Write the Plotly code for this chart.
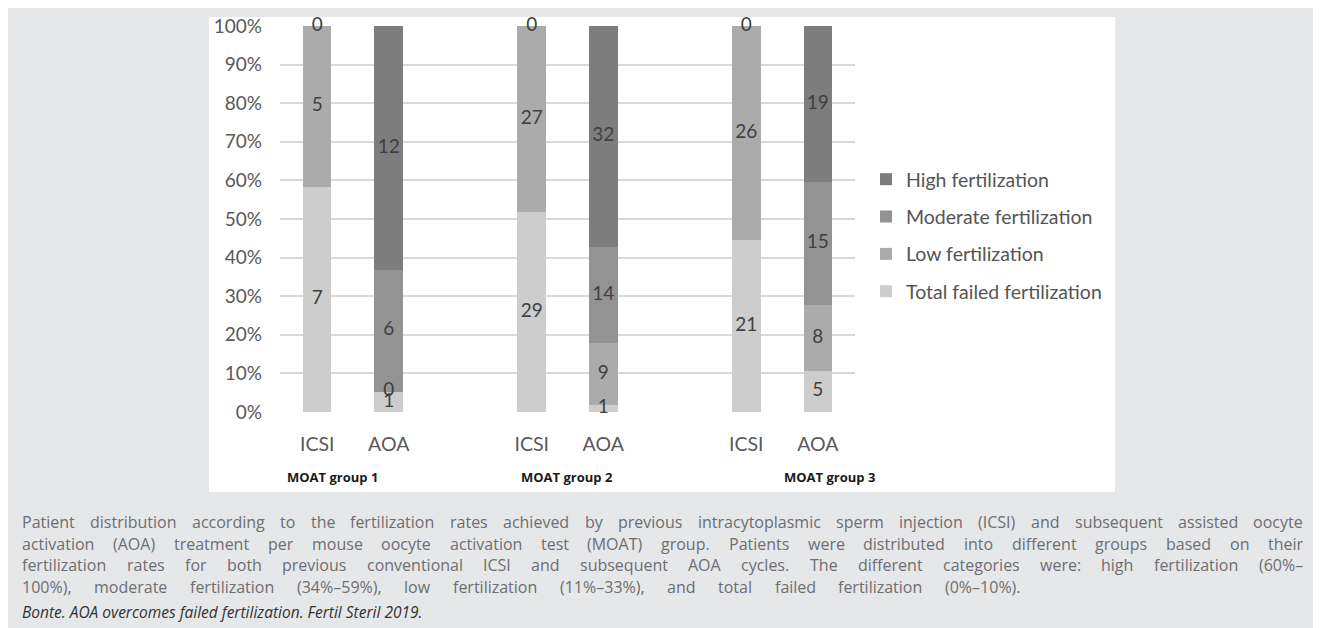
import plotly.graph_objects as go

W, H = 1321, 628
OFF = 8  # the page body adds an 8px margin; reference pixels are shifted by it

# ---------------- data ----------------
groups = ["MOAT group 1", "MOAT group 2", "MOAT group 3"]
arms = ["ICSI", "AOA"]
series_names = ["Total failed fertilization", "Low fertilization",
                "Moderate fertilization", "High fertilization"]
# one value per bar: G1 ICSI, G1 AOA, G2 ICSI, G2 AOA, G3 ICSI, G3 AOA
total_failed = [7, 1, 29, 1, 21, 5]
low_fert = [5, 0, 27, 9, 26, 8]
moderate_fert = [0, 6, 0, 14, 0, 15]
high_fert = [None, 12, None, 32, None, 19]
series_values = [total_failed, low_fert, moderate_fert, high_fert]
series_colors = ["#cdcdcd", "#ababab", "#939393", "#7d7d7d"]

y_tick_vals = [0, 0.1, 0.2, 0.3, 0.4, 0.5, 0.6, 0.7, 0.8, 0.9, 1.0]
y_tick_text = ["0%", "10%", "20%", "30%", "40%", "50%", "60%", "70%", "80%", "90%", "100%"]

caption_lines = [
    "Patient distribution according to the fertilization rates achieved by previous intracytoplasmic sperm injection (ICSI) and subsequent assisted oocyte",
    "activation (AOA) treatment per mouse oocyte activation test (MOAT) group. Patients were distributed into different groups based on their",
    "fertilization rates for both previous conventional ICSI and subsequent AOA cycles. The different categories were: high fertilization (60%\u2013",
    "100%), moderate fertilization (34%\u201359%), low fertilization (11%\u201333%), and total failed fertilization (0%\u201310%).",
]
citation = "Bonte. AOA overcomes failed fertilization. Fertil Steril 2019."

# ---------------- helpers ----------------
def fx(px):
    return (px - OFF) / W


def fy(py):
    return 1 - (py - OFF) / H


# Excel-style category slots: two bars per group, one empty slot between groups
bar_x = [g * 3 + a for g in range(len(groups)) for a in range(len(arms))]
bar_ticktext = [a for g in groups for a in arms]
n_bars = len(bar_x)
totals = [sum(s[i] for s in series_values if s[i] is not None) for i in range(n_bars)]

CHART_FONT = "Lato, Carlito, 'Open Sans', sans-serif"
CAP_FONT = "'Open Sans', 'Noto Sans', sans-serif"

fig = go.Figure()

n_series = len(series_names)
for k, (name, vals, col) in enumerate(zip(series_names, series_values, series_colors)):
    fig.add_trace(go.Bar(
        x=bar_x, y=[v if v is not None else 0 for v in vals],
        name=name, marker=dict(color=col, line=dict(width=0)),
        width=0.4, legendgroup=name, legendrank=n_series - k, hoverinfo="skip",
    ))

# data labels (counts), centred in each stacked segment
lab_x, lab_y, lab_t = [], [], []
cum = [0.0] * n_bars
for vals in series_values:
    for i, v in enumerate(vals):
        if v is None:
            continue
        lab_x.append(bar_x[i])
        lab_y.append((cum[i] + v / 2.0) / totals[i])
        lab_t.append(str(v))
        cum[i] += v
fig.add_trace(go.Scatter(
    x=lab_x, y=lab_y, text=lab_t, mode="text", showlegend=False,
    textfont=dict(family=CHART_FONT, size=19, color="#404040"),
    textposition="middle center", cliponaxis=False, hoverinfo="skip",
))

# ---------------- layout ----------------
px_left, px_right = 280, 855
px_top, px_bottom = 26, 412

fig.update_layout(
    width=W, height=H,
    margin=dict(l=0, r=0, t=0, b=0, autoexpand=False),
    paper_bgcolor="#e6e7e9", plot_bgcolor="rgba(0,0,0,0)",
    barmode="stack", barnorm="fraction",
    showlegend=True,
    legend=dict(
        x=fx(866), y=fy(160), xanchor="left", yanchor="top",
        traceorder="grouped", tracegroupgap=9,
        font=dict(family=CHART_FONT, size=19.5, color="#555555"),
        bgcolor="rgba(0,0,0,0)", itemclick=False, itemdoubleclick=False,
    ),
    xaxis=dict(
        domain=[fx(px_left), fx(px_right)], range=[-0.52, 7.52],
        tickmode="array", tickvals=bar_x, ticktext=bar_ticktext,
        showgrid=False, zeroline=False, showline=False, ticks="",
        tickfont=dict(family=CHART_FONT, size=19.5, color="#595959"),
        ticklabelstandoff=18, fixedrange=True,
    ),
    yaxis=dict(
        domain=[fy(px_bottom), fy(px_top)], range=[0, 1],
        tickmode="array", tickvals=y_tick_vals, ticktext=y_tick_text,
        showgrid=True, gridcolor="#d9d9d9", gridwidth=1.5,
        zeroline=False, showline=False, ticks="",
        tickfont=dict(family=CHART_FONT, size=19, color="#595959"),
        ticklabelstandoff=17, fixedrange=True,
    ),
    shapes=[
        dict(type="rect", xref="paper", yref="paper", x0=fx(1316), x1=1.01,
             y0=-0.01, y1=1.01, fillcolor="#ffffff", line=dict(width=0), layer="below"),
        dict(type="rect", xref="paper", yref="paper", x0=fx(209), x1=fx(1115),
             y0=fy(492), y1=fy(17), fillcolor="#ffffff", line=dict(width=0), layer="below"),
    ],
)

annotations = []
# group labels under the category labels
group_px = [286, 520, 783]
for gname, gx in zip(groups, group_px):
    annotations.append(dict(
        text="<b>" + gname + "</b>", xref="paper", yref="paper",
        x=fx(gx), y=fy(477), xanchor="left", yanchor="middle",
        showarrow=False, borderpad=0,
        font=dict(family="'Open Sans', sans-serif", size=13, color="#1a1a1a"),
    ))

# caption: justified paragraph (approximate Open Sans advance widths)
OS_W = {' ': 532, '(': 604, ')': 604, ',': 500, '-': 659, '.': 545, ':': 545,
        '%': 1696, '\u2013': 1024,
        'a': 1139, 'b': 1255, 'c': 975, 'd': 1255, 'e': 1149, 'f': 694, 'g': 1122,
        'h': 1257, 'i': 518, 'j': 518, 'k': 1075, 'l': 518, 'm': 1905, 'n': 1257,
        'o': 1237, 'p': 1255, 'q': 1255, 'r': 836, 's': 977, 't': 723, 'u': 1257,
        'v': 1026, 'w': 1593, 'x': 1073, 'y': 1028, 'z': 977,
        'A': 1296, 'B': 1327, 'C': 1292, 'D': 1493, 'E': 1139, 'F': 1057, 'G': 1491,
        'H': 1511, 'I': 571, 'J': 547, 'K': 1257, 'L': 1063, 'M': 1849, 'N': 1544,
        'O': 1595, 'P': 1233, 'Q': 1595, 'R': 1266, 'S': 1124, 'T': 1133, 'U': 1491,
        'V': 1219, 'W': 1896, 'X': 1182, 'Y': 1157, 'Z': 1141}
for d in "0123456789":
    OS_W[d] = 1171


def text_w(s, size):
    return sum(OS_W.get(c, 1150) for c in s) / 2048.0 * size


cap_left, cap_right = 21, 1302
line_right = [cap_right, cap_right, cap_right, 1020]   # last line is shorter
cap_w = cap_right - cap_left
em1 = text_w(caption_lines[0], 1.0)
cap_size = min(16.0, max(14.5, 0.955 * cap_w / em1))
cap_y = [522, 543.5, 565, 586.5]
cap_color = "#6d6e71"
for li, line in enumerate(caption_lines):
    ypos = fy(cap_y[li])
    words = line.split(" ")
    ws = [text_w(w, cap_size) for w in words]
    gap = (line_right[li] - cap_left - sum(ws)) / (len(words) - 1)
    xcur = cap_left
    for w, ww in zip(words, ws):
        annotations.append(dict(
            text=w, xref="paper", yref="paper", x=fx(xcur), y=ypos,
            xanchor="left", yanchor="middle", showarrow=False, borderpad=0,
            font=dict(family=CAP_FONT, size=cap_size, color=cap_color),
        ))
        xcur += ww + gap

annotations.append(dict(
    text="<i>" + citation + "</i>", xref="paper", yref="paper",
    x=fx(cap_left), y=fy(612), xanchor="left", yanchor="middle",
    showarrow=False, borderpad=0,
    font=dict(family=CAP_FONT, size=15.5, color="#333333"),
))

fig.update_layout(annotations=annotations)

fig.write_html("out.html")
